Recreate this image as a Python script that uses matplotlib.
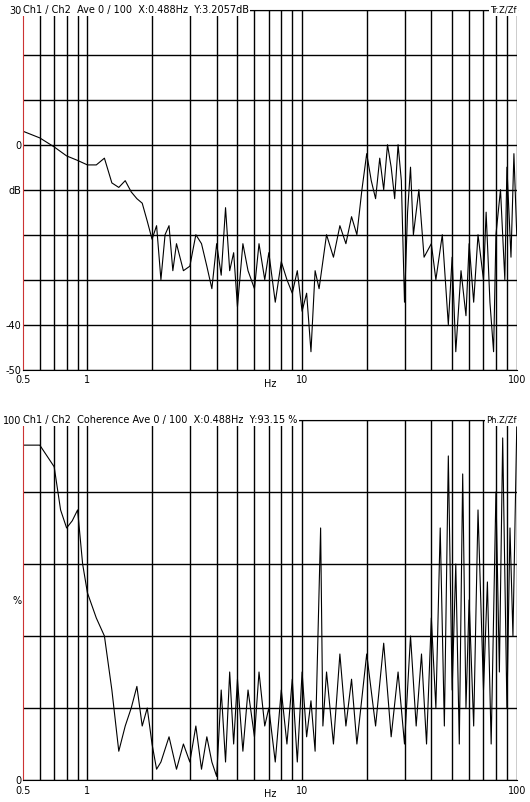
import matplotlib.pyplot as plt
from matplotlib.ticker import FixedLocator, NullFormatter

# transfer function (dB)
tr_hz = [0.5, 0.6, 0.7, 0.8, 0.9, 1.0, 1.1, 1.2, 1.3, 1.4, 1.5, 1.6, 1.7, 1.8, 1.9, 2.0,
         2.1, 2.2, 2.3, 2.4, 2.5, 2.6, 2.8, 3.0, 3.2, 3.4, 3.6, 3.8, 4.0, 4.2, 4.4, 4.6,
         4.8, 5.0, 5.3, 5.6, 6.0, 6.3, 6.7, 7.0, 7.5, 8.0, 8.5, 9.0, 9.5, 10, 10.5, 11,
         11.5, 12, 13, 14, 15, 16, 17, 18, 19, 20, 21, 22, 23, 24, 25, 26, 27, 28, 29,
         30, 31, 32, 33, 35, 37, 40, 42, 45, 48, 50, 52, 55, 58, 60, 63, 66, 70, 72, 75,
         78, 80, 84, 88, 90, 94, 97, 100]
tr_db = [3, 1.5, -0.5, -2.5, -3.5, -4.5, -4.5, -3, -8.5, -9.5, -8, -10.5, -12, -13, -17, -21,
         -18, -30, -20, -18, -28, -22, -28, -27, -20, -22, -27, -32, -22, -29, -14, -28,
         -24, -36, -22, -28, -32, -22, -30, -24, -35, -26, -30, -33, -28, -37, -33, -46,
         -28, -32, -20, -25, -18, -22, -16, -20, -10, -2, -8, -12, -3, -10, 0, -5, -12, 0, -8,
         -35, -15, -5, -20, -10, -25, -22, -30, -20, -40, -25, -46, -28, -38, -22, -35, -20, -30, -15, -35,
         -46, -20, -10, -30, -5, -25, -2, -20]

# coherence (%)
co_hz = [0.5, 0.6, 0.7, 0.75, 0.8, 0.85, 0.9, 0.95, 1.0, 1.1, 1.2, 1.3, 1.4, 1.5, 1.6, 1.7,
         1.8, 1.9, 2.0, 2.1, 2.2, 2.4, 2.6, 2.8, 3.0, 3.2, 3.4, 3.6, 3.8, 4.0, 4.2, 4.4,
         4.6, 4.8, 5.0, 5.3, 5.6, 6.0, 6.3, 6.7, 7.0, 7.5, 8.0, 8.5, 9.0, 9.5, 10, 10.5,
         11, 11.5, 12.2, 12.5, 13, 14, 15, 16, 17, 18, 20, 22, 24, 26, 28, 30, 32, 34, 36,
         38, 40, 42, 44, 46, 48, 50, 52, 54, 56, 58, 60, 63, 66, 70, 73, 76, 80, 83, 86,
         90, 93, 96, 100]
co_pct = [93, 93, 87, 75, 70, 72, 75, 60, 52, 45, 40, 25, 8, 15, 20, 26,
          15, 20, 10, 3, 5, 12, 3, 10, 5, 15, 3, 12, 5, 1, 25, 5,
          30, 10, 28, 8, 25, 12, 30, 15, 20, 5, 25, 10, 28, 5, 30, 12,
          22, 8, 70, 15, 30, 10, 35, 15, 28, 10, 35, 15, 38, 12, 30, 10, 40, 15, 35,
          10, 45, 20, 70, 15, 90, 25, 60, 10, 85, 20, 50, 15, 75, 25, 55, 10, 80, 30, 95,
          20, 70, 40, 98]

minor = [0.6, 0.7, 0.8, 0.9, 2, 3, 4, 5, 6, 7, 8, 9, 20, 30, 40, 50, 60, 70, 80, 90]

fig = plt.figure(figsize=(5.3, 8.02), dpi=100)
ax1 = fig.add_axes([0.043, 0.539, 0.932, 0.449])
ax2 = fig.add_axes([0.043, 0.0274, 0.932, 0.449])

panels = [
    (ax1, tr_hz, tr_db, (-50, 30), range(-50, 31, 10), [30, 0, -10, -40, -50],
     ["30", "0", "dB", "-40", "-50"], "Ch1 / Ch2  Ave 0 / 100  X:0.488Hz  Y:3.2057dB", "Tr.Z/Zf"),
    (ax2, co_hz, co_pct, (0, 100), range(0, 101, 20), [100, 50, 0],
     ["100", "%", "0"], "Ch1 / Ch2  Coherence Ave 0 / 100  X:0.488Hz  Y:93.15 %", "Ph.Z/Zf"),
]

for ax, x, y, ylim, grid_y, yt, ytl, title, tag in panels:
    ax.plot(x, y, color="black", lw=0.8)
    ax.set_xscale("log")
    ax.set_xlim(0.5, 100)
    ax.set_ylim(*ylim)
    for g in grid_y:
        ax.axhline(g, color="black", lw=1.0, zorder=0)
    for g in minor + [1, 10, 100]:
        ax.axvline(g, color="black", lw=1.0, zorder=0)
    ax.xaxis.set_major_locator(FixedLocator([0.5, 1, 10, 100]))
    ax.xaxis.set_minor_formatter(NullFormatter())
    ax.xaxis.set_minor_locator(FixedLocator([]))
    ax.set_xticklabels(["0.5", "1", "10", "100"])
    ax.set_yticks(yt)
    ax.set_yticklabels(ytl)
    ax.tick_params(length=0, labelsize=7, pad=1)
    ax.tick_params(axis="x", pad=4)
    ax.text(0.5, -0.025, "Hz", transform=ax.transAxes, fontsize=7, ha="center", va="top")
    ax.spines["right"].set_visible(False)
    ax.spines["left"].set_color("#cc3333")
    ax.text(0.0, 1.0, title, transform=ax.transAxes, fontsize=7, ha="left", va="center",
            bbox=dict(facecolor="white", edgecolor="none", pad=1))
    ax.text(1.0, 1.0, tag, transform=ax.transAxes, fontsize=6, ha="right", va="center",
            bbox=dict(facecolor="white", edgecolor="none", pad=1))

fig.savefig("out.png", dpi=100)
